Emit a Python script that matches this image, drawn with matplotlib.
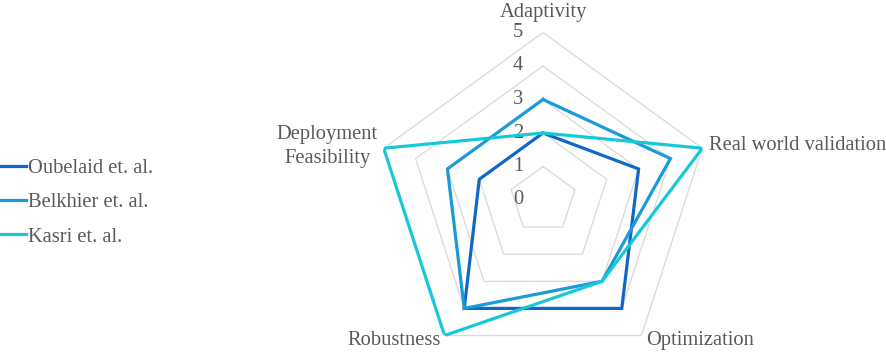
import numpy as np
import matplotlib
matplotlib.use('Agg')
import matplotlib.pyplot as plt

# Chart data
categories = ["Adaptivity", "Real world validation", "Optimization",
              "Robustness", "Deployment\nFeasibility"]
series_names = ["Oubelaid et. al.", "Belkhier et. al.", "Kasri et. al."]
oubelaid = [2, 3, 4, 4, 2]
belkhier = [3, 4, 3, 4, 3]
kasri = [2, 5, 3, 5, 5]
levels = [0, 1, 2, 3, 4, 5]

colors = ['#0F67C6', '#1A9AD8', '#17C8D8']
text_color = '#595959'
grid_color = '#D9D9D9'
fs = 14.8

plt.rcParams['font.family'] = ['Liberation Serif', 'DejaVu Serif']

fig = plt.figure(figsize=(8.86, 3.52), dpi=100)
W, H = 886, 352
cx, cy, R = 543, 152, 167.5  # center (px from bottom-left) and radius
ax = fig.add_axes([(cx - R) / W, (cy - R) / H, 2 * R / W, 2 * R / H], projection='polar')
ax.set_theta_zero_location('N')
ax.set_theta_direction(-1)
ax.set_ylim(0, levels[-1])
ax.grid(False)
ax.set_xticks([])
ax.set_yticks([])
ax.spines['polar'].set_visible(False)
ax.patch.set_alpha(0)

n = len(categories)
angles = np.arange(n) * 2 * np.pi / n
closed = np.append(angles, angles[0])

# Pentagon grid
for lv in levels[1:]:
    ax.plot(closed, [lv] * (n + 1), color=grid_color, lw=0.9, zorder=1)

# Series
for name, vals, c in zip(series_names, [oubelaid, belkhier, kasri], colors):
    ax.plot(closed, list(vals) + [vals[0]], color=c, lw=2.3, label=name,
            solid_joinstyle='miter', zorder=3)

# Radial value labels along the top axis
for lv in levels:
    ax.annotate(str(lv), xy=(0, lv), xytext=(-25, 0), textcoords='offset pixels',
                ha='center', va='center', fontsize=fs, color=text_color, zorder=2)

# Category labels
label_opts = [
    dict(xytext=(0, 11), ha='center', va='bottom'),
    dict(xytext=(7, 3), ha='left', va='center'),
    dict(xytext=(5, -5), ha='left', va='center'),
    dict(xytext=(-4, -5), ha='right', va='center'),
    dict(xytext=(-6, 2), ha='right', va='center'),
]
for ang, cat, opt in zip(angles, categories, label_opts):
    ax.annotate(cat, xy=(ang, levels[-1]), textcoords='offset pixels',
                fontsize=fs, color=text_color, multialignment='center',
                linespacing=1.35, annotation_clip=False, **opt)

leg = fig.legend(loc='center left', bbox_to_anchor=(0.0, 0.424), frameon=False,
                 fontsize=fs, handlelength=1.25, handletextpad=0.1,
                 labelspacing=0.72, borderpad=0, borderaxespad=0)
for t in leg.get_texts():
    t.set_color(text_color)

fig.savefig('out.png', dpi=100)
